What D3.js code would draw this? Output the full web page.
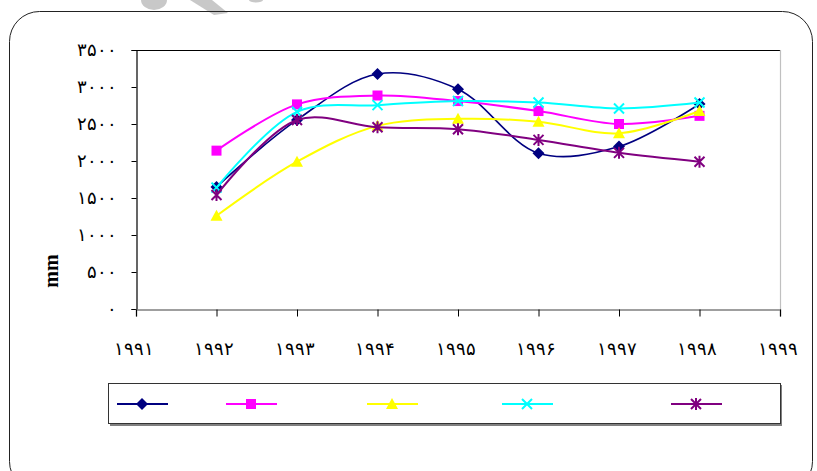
<!DOCTYPE html>
<html>
<head>
<meta charset="utf-8">
<script src="https://cdn.jsdelivr.net/npm/d3@7"></script>
<style>
  html, body { margin: 0; padding: 0; background: #fff; }
  svg { display: block; }
</style>
</head>
<body>
<svg id="chart" width="817" height="471"></svg>
<script>
// ---- data ----
const years = [1992, 1993, 1994, 1995, 1996, 1997, 1998];
const seriesNavy    = [1650, 2555, 3175, 2970, 2105, 2195, 2770];
const seriesMagenta = [2140, 2765, 2885, 2810, 2675, 2500, 2610];
const seriesYellow  = [1260, 1990, 2475, 2570, 2530, 2375, 2675];
const seriesCyan    = [1640, 2665, 2755, 2810, 2790, 2710, 2790];
const seriesPurple  = [1540, 2555, 2455, 2430, 2285, 2110, 1990];
const xTickValues = [1991, 1992, 1993, 1994, 1995, 1996, 1997, 1998, 1999];
const xTickLabels = ["۱۹۹۱", "۱۹۹۲", "۱۹۹۳", "۱۹۹۴", "۱۹۹۵", "۱۹۹۶", "۱۹۹۷", "۱۹۹۸", "۱۹۹۹"];
const yTickValues = [0, 500, 1000, 1500, 2000, 2500, 3000, 3500];
const yTickLabels = ["۰", "۵۰۰", "۱۰۰۰", "۱۵۰۰", "۲۰۰۰", "۲۵۰۰", "۳۰۰۰", "۳۵۰۰"];
const yAxisTitle = "mm";

const series = [
  { values: seriesNavy,    color: "#000080", marker: "diamond",  width: 1.6 },
  { values: seriesMagenta, color: "#FF00FF", marker: "square",   width: 2 },
  { values: seriesYellow,  color: "#FFFF00", marker: "triangle", width: 2 },
  { values: seriesCyan,    color: "#00FFFF", marker: "x",        width: 2 },
  { values: seriesPurple,  color: "#800080", marker: "star",     width: 2 }
];

const svg = d3.select("#chart");

// ---- watermark fragments (decorative) ----
const wm = svg.append("g").attr("fill", "#c8c8c8");
wm.append("ellipse").attr("cx", 154).attr("cy", 0).attr("rx", 13).attr("ry", 10);
wm.append("path").attr("d", "M190,0 L212,0 L228,13 L214,15 Z");
wm.append("ellipse").attr("cx", 256).attr("cy", 0).attr("rx", 7).attr("ry", 2.5);

// ---- outer rounded border ----
svg.append("rect")
  .attr("x", 9.5).attr("y", 11.5).attr("width", 803).attr("height", 480)
  .attr("rx", 30).attr("ry", 30)
  .attr("fill", "none").attr("stroke", "#222").attr("stroke-width", 1);

// ---- scales ----
const x = d3.scaleLinear().domain([1991, 1999]).range([136, 780]);
const y = d3.scaleLinear().domain([0, 3500]).range([309, 50]);

// plot area border
svg.append("line").attr("x1", x(1991)).attr("x2", x(1999)).attr("y1", y(3500) + 0.5).attr("y2", y(3500) + 0.5)
  .attr("stroke", "#000").attr("stroke-width", 1);
svg.append("line").attr("x1", x(1999) + 0.5).attr("x2", x(1999) + 0.5).attr("y1", y(3500)).attr("y2", y(0))
  .attr("stroke", "#c0c0c0").attr("stroke-width", 1.2);

// ---- axes ----
const fontFam = "'DejaVu Sans', sans-serif";
const yAxis = d3.axisLeft(y).tickValues(yTickValues)
  .tickFormat((d, i) => yTickLabels[i]).tickSize(5).tickPadding(15);
const gy = svg.append("g").attr("transform", `translate(${x(1991) + 0.5},0)`).call(yAxis);
gy.select(".domain").attr("stroke", "#000").attr("stroke-width", 1.2);
gy.selectAll(".tick line").attr("stroke", "#000");
gy.selectAll("text").attr("font-family", fontFam).attr("font-size", 18).attr("fill", "#000")
  .attr("font-weight", 300).attr("direction", "ltr");

const xAxis = d3.axisBottom(x).tickValues(xTickValues)
  .tickFormat((d, i) => xTickLabels[i]).tickSize(7).tickPadding(26);
const gx = svg.append("g").attr("transform", `translate(0,${y(0) + 0.5})`).call(xAxis);
gx.select(".domain").attr("stroke", "#808080").attr("stroke-width", 1.5);
gx.selectAll(".tick line").attr("stroke", "#000");
gx.selectAll("text").attr("font-family", fontFam).attr("font-size", 18).attr("fill", "#000")
  .attr("font-weight", 300).attr("direction", "ltr").attr("dx", -3);

// y axis title
svg.append("text")
  .attr("transform", "translate(58,271) rotate(-90)")
  .attr("text-anchor", "middle")
  .attr("font-family", "'Liberation Serif', serif")
  .attr("font-weight", "bold").attr("font-size", 20)
  .text(yAxisTitle);

// ---- markers ----
function drawMarker(g, type, color, cx, cy) {
  if (type === "diamond") {
    g.append("path").attr("d", `M${cx},${cy - 6} L${cx + 6},${cy} L${cx},${cy + 6} L${cx - 6},${cy} Z`)
      .attr("fill", color);
  } else if (type === "square") {
    g.append("rect").attr("x", cx - 5).attr("y", cy - 5).attr("width", 10).attr("height", 10).attr("fill", color);
  } else if (type === "triangle") {
    g.append("path").attr("d", `M${cx},${cy - 6} L${cx + 6},${cy + 5} L${cx - 6},${cy + 5} Z`).attr("fill", color);
  } else if (type === "x") {
    g.append("path").attr("d", `M${cx - 5},${cy - 5} L${cx + 5},${cy + 5} M${cx + 5},${cy - 5} L${cx - 5},${cy + 5}`)
      .attr("stroke", color).attr("stroke-width", 2).attr("fill", "none");
  } else if (type === "star") {
    g.append("path").attr("d", `M${cx - 5},${cy - 5} L${cx + 5},${cy + 5} M${cx + 5},${cy - 5} L${cx - 5},${cy + 5} M${cx},${cy - 6} L${cx},${cy + 6}`)
      .attr("stroke", color).attr("stroke-width", 2).attr("fill", "none");
  }
}

// ---- lines ----
const line = d3.line().x(d => x(d[0])).y(d => y(d[1])).curve(d3.curveCatmullRom.alpha(0.5));
series.forEach(s => {
  const pts = years.map((yr, i) => [yr, s.values[i]]);
  const g = svg.append("g");
  g.append("path").datum(pts).attr("d", line)
    .attr("fill", "none").attr("stroke", s.color).attr("stroke-width", s.width);
  pts.forEach(p => drawMarker(g, s.marker, s.color, x(p[0]), y(p[1])));
});

// ---- legend ----
const lg = svg.append("g");
lg.append("rect").attr("x", 110).attr("y", 385).attr("width", 672).attr("height", 41).attr("fill", "#808080");
lg.append("rect").attr("x", 108.5).attr("y", 383.5).attr("width", 672).attr("height", 40)
  .attr("fill", "#fff").attr("stroke", "#333").attr("stroke-width", 1);
const legendCenters = [142, 251, 392, 527, 696];
series.forEach((s, i) => {
  const cx = legendCenters[i], cy = 404;
  lg.append("line").attr("x1", cx - 25).attr("x2", cx + 26).attr("y1", cy).attr("y2", cy)
    .attr("stroke", s.color).attr("stroke-width", 2);
  drawMarker(lg, s.marker, s.color, cx, cy);
});
</script>
</body>
</html>
